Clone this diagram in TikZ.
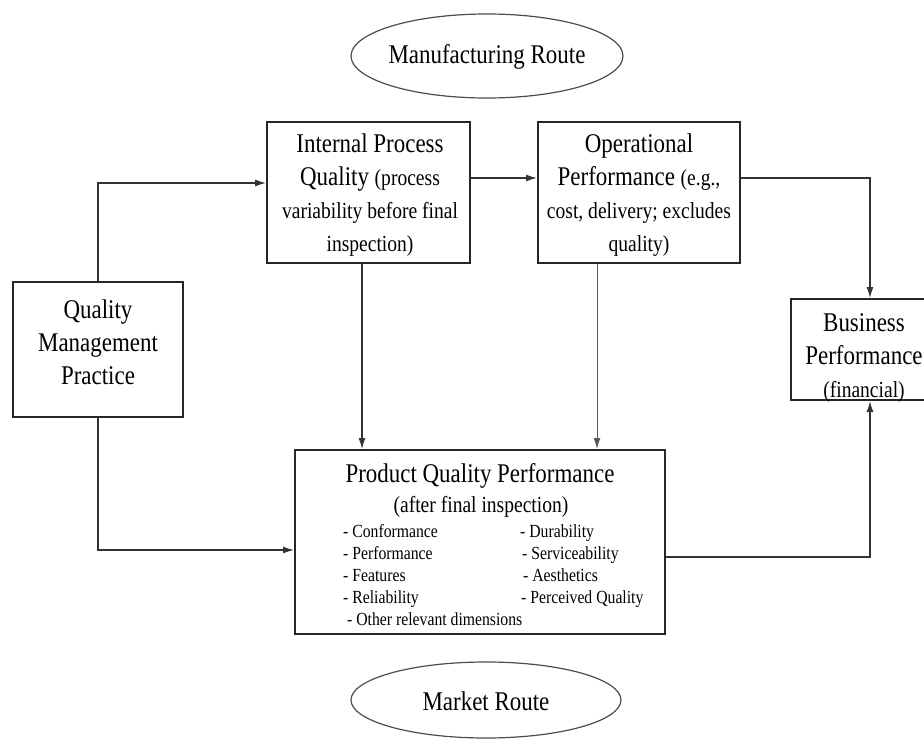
\documentclass[tikz,border=0pt]{standalone}
\usepackage{fontspec}
\setmainfont{Liberation Serif}[FakeStretch=0.85]
\usetikzlibrary{arrows.meta,shapes.geometric}
\newcommand\bigtxt{\fontsize{27}{33}\selectfont}
\newcommand\midtxt{\fontsize{23}{31}\selectfont}
\newcommand\listtxt{\fontsize{18.5}{22}\selectfont}

\begin{document}
\begin{tikzpicture}[x=1pt,y=-1pt,
  box/.style={draw=black!85, line width=2pt, rectangle, inner sep=0pt},
  route/.style={draw=black!70, line width=1.2pt, ellipse, inner sep=0pt},
  link/.style={draw=black!80, line width=1.3pt, -{Latex[length=11pt,width=7pt]}},
  thinlink/.style={link, draw=black!65, line width=1pt},
  boxtext/.style={align=center, inner sep=0pt, font=\bigtxt},
  item/.style={anchor=base west, inner sep=0pt, font=\listtxt},
]
\clip (0,0) rectangle (924,742);

% route ellipses
\node[route, minimum width=272, minimum height=84] (mfg) at (487,56) {};
\node[font=\bigtxt] (mfgtext) at (487,57) {Manufacturing Route};
\node[route, minimum width=270, minimum height=76] (mkt) at (486,700) {};
\node[font=\bigtxt] (mkttext) at (486,701) {Market Route};

% boxes
\node[box, minimum width=203, minimum height=141] (ipq) at (368.5,192.5) {};
\node[box, minimum width=202, minimum height=141] (op) at (639,192.5) {};
\node[box, minimum width=170, minimum height=135] (qmp) at (98,349.5) {};
\node[box, minimum width=146, minimum height=101] (bp) at (864,349.5) {};
\node[box, minimum width=370, minimum height=184] (pqp) at (480,542) {};

% box texts
\node[boxtext] (ipqtext) at (370,195) {Internal Process\\ Quality {\midtxt (process}\\ {\midtxt variability before final}\\ {\midtxt inspection)}};
\node[boxtext] (optext) at (639,195) {Operational\\ Performance {\midtxt (e.g.,}\\ {\midtxt cost, delivery; excludes}\\ {\midtxt quality)}};
\node[boxtext] (qmptext) at (98,342) {Quality\\ Management\\ Practice};
\node[boxtext] (bptext) at (864,358) {Business\\ Performance\\ {\midtxt (financial)}};
\node[font=\bigtxt] (pqphead) at (480,476) {Product Quality Performance};
\node[font=\midtxt] (pqpsub) at (481,507) {(after final inspection)};

% quality dimensions
\node[item] (d1) at (343,537) {- Conformance};
\node[item] (d2) at (343,559) {- Performance};
\node[item] (d3) at (343,581) {- Features};
\node[item] (d4) at (343,603) {- Reliability};
\node[item] (d5) at (347,625) {- Other relevant dimensions};
\node[item] (d6) at (520,537) {- Durability};
\node[item] (d7) at (522,559) {- Serviceability};
\node[item] (d8) at (523,581) {- Aesthetics};
\node[item] (d9) at (521,603) {- Perceived Quality};

% connector levels
\coordinate (yq) at (0,183);
\coordinate (yo) at (0,178);
\coordinate (xb) at (870,0);
\coordinate (xi) at (362,0);
\coordinate (xo) at (597,0);
\coordinate (yp) at (0,550);
\coordinate (yr) at (0,557);

% connectors
\draw[link] (qmp.north) |- (ipq.west |- yq);
\draw[link] (ipq.east |- yo) -- (op.west |- yo);
\draw[link] (op.east |- yo) -| (xb |- bp.north);
\draw[link] (ipq.south -| xi) -- (pqp.north -| xi);
\draw[thinlink] (op.south -| xo) -- (pqp.north -| xo);
\draw[link] (qmp.south) |- (pqp.west |- yp);
\draw[link] (pqp.east |- yr) -| (xb |- bp.south);
\end{tikzpicture}
\end{document}
